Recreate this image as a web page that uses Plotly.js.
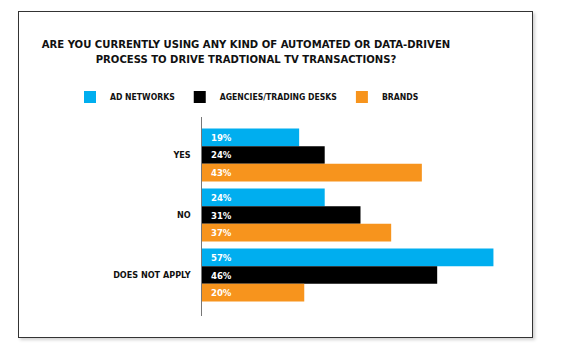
<!DOCTYPE html>
<html>
<head>
<meta charset="utf-8">
<script src="https://cdn.plot.ly/plotly-3.0.1.min.js"></script>
<style>
  html, body { margin: 0; padding: 0; background: #fff; }
  #wrap { position: relative; width: 580px; height: 358px; overflow: hidden; }
  #chart { position: absolute; left: 0; top: 0; width: 580px; height: 358px; }
  #frame { position: absolute; left: 18px; top: 11px; width: 513px; height: 325px;
           border: 1.5px solid #333; box-shadow: 2px 2px 3px rgba(0,0,0,0.18);
           pointer-events: none; }
</style>
</head>
<body>
<div id="wrap">
  <div id="chart"></div>
  <div id="frame"></div>
</div>
<script>
const categories = ["YES", "NO", "DOES NOT APPLY"];
const seriesNames = ["AD NETWORKS", "AGENCIES/TRADING DESKS", "BRANDS"];
const adNetworks = [19, 24, 57];
const agencies = [24, 31, 46];
const brands = [43, 37, 20];
const colors = ["#00AEEF", "#000000", "#F7941D"];

const FONT = "'DejaVu Sans Condensed', 'Liberation Sans Narrow', Arial, sans-serif";
const values = [adNetworks, agencies, brands];

const traces = values.map((vals, i) => ({
  type: "bar",
  orientation: "h",
  name: seriesNames[i],
  y: categories,
  x: vals,
  marker: { color: colors[i], line: { width: 0 } },
  texttemplate: "\u00a0\u00a0%{x}%",
  textposition: "inside",
  insidetextanchor: "start",
  textangle: 0,
  constraintext: "none",
  textfont: { family: FONT, size: 9.5, color: "#ffffff", weight: "bold" },
  hoverinfo: "skip"
}));

const layout = {
  width: 580,
  height: 358,
  margin: { l: 202, r: 61, t: 117, b: 42, autoexpand: false },
  paper_bgcolor: "#ffffff",
  plot_bgcolor: "#ffffff",
  barmode: "group",
  bargap: 0.117,
  bargroupgap: 0,
  showlegend: true,
  title: {
    text: "ARE YOU CURRENTLY USING ANY KIND OF AUTOMATED OR DATA-DRIVEN<br>PROCESS TO DRIVE TRADTIONAL TV TRANSACTIONS?",
    font: { family: FONT, size: 11.2, color: "#111111", weight: "bold" },
    xref: "container", yref: "container",
    x: 246 / 580, xanchor: "center",
    y: 1 - 48 / 358, yanchor: "middle"
  },
  legend: {
    orientation: "h",
    x: (70 - 202) / 317, xanchor: "left",
    y: 1.1, yanchor: "middle",
    font: { family: FONT, size: 8.6, color: "#111111", weight: "bold" },
    traceorder: "normal",
    itemclick: false, itemdoubleclick: false
  },
  xaxis: {
    range: [0, 62],
    showgrid: false, zeroline: false, showline: false,
    showticklabels: false, ticks: "", fixedrange: true
  },
  yaxis: {
    type: "category",
    range: [2.683, -0.633],
    showgrid: false, zeroline: false,
    showline: true, linecolor: "#777777", linewidth: 1.5,
    ticks: "", ticklabelstandoff: 8,
    tickfont: { family: FONT, size: 9, color: "#111111", weight: "bold" },
    fixedrange: true
  }
};

Plotly.newPlot("chart", traces, layout, { displayModeBar: false, staticPlot: true });
</script>
</body>
</html>
